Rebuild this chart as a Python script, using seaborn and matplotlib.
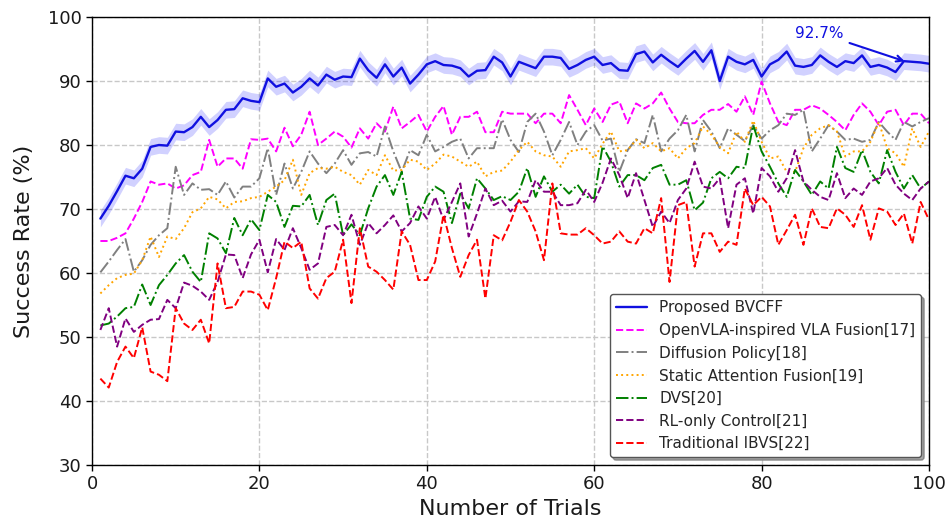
import numpy as np
import pandas as pd
import matplotlib
matplotlib.use("Agg")
import matplotlib.pyplot as plt
import seaborn as sns

trials = list(range(1, 101))

proposed_bvcff = [68.5, 70.5, 72.8, 75.2, 74.8, 76.3, 79.7, 80.0, 79.9, 82.1,
                  82.0, 82.8, 84.4, 82.8, 83.9, 85.5, 85.6, 87.3, 86.9, 86.7,
                  90.4, 89.1, 89.6, 88.2, 89.1, 90.4, 89.3, 91.0, 90.2, 90.7,
                  90.6, 93.5, 91.7, 90.5, 92.6, 90.7, 92.1, 89.6, 91.0, 92.6,
                  93.1, 92.5, 92.4, 92.0, 90.7, 91.6, 91.7, 93.8, 92.9, 90.7,
                  93.0, 92.5, 92.0, 93.8, 93.8, 93.6, 91.9, 92.5, 93.3, 93.8,
                  92.5, 92.8, 91.7, 91.6, 94.2, 94.6, 92.9, 94.1, 93.1, 92.2,
                  93.5, 94.7, 93.0, 94.8, 90.0, 93.8, 93.0, 92.6, 93.3, 90.7,
                  92.6, 93.3, 94.6, 92.4, 92.2, 92.5, 94.0, 93.0, 92.2, 93.1,
                  92.8, 94.0, 92.2, 92.5, 92.1, 91.4, 93.1, 93.0, 92.9, 92.7]
proposed_band = 1.3

openvla_fusion = [65.0, 65.0, 65.5, 66.2, 68.5, 71.1, 74.3, 73.8, 74.0, 73.2,
                  73.7, 75.3, 75.8, 80.8, 76.6, 77.9, 77.9, 76.3, 80.9, 80.8,
                  81.0, 79.0, 82.7, 79.8, 81.6, 85.2, 80.0, 81.0, 82.1, 81.3,
                  79.6, 82.6, 81.0, 83.4, 82.1, 86.0, 82.6, 83.6, 84.7, 82.1,
                  84.4, 86.1, 81.6, 84.4, 84.4, 85.2, 82.0, 82.0, 85.2, 84.9,
                  84.9, 84.9, 83.4, 84.9, 84.9, 83.4, 87.8, 85.5, 83.1, 85.7,
                  83.6, 86.3, 86.8, 83.4, 86.5, 85.7, 86.5, 88.2, 85.7, 83.6,
                  83.4, 83.4, 84.7, 85.5, 85.5, 86.4, 85.2, 87.6, 84.7, 89.9,
                  86.5, 83.6, 83.1, 85.5, 85.5, 86.2, 85.7, 84.7, 83.6, 82.3,
                  84.7, 86.5, 85.2, 83.1, 85.2, 85.5, 83.1, 84.9, 84.9, 83.4]

diffusion_policy = [60.1, 61.8, 63.6, 65.3, 60.2, 62.0, 64.4, 65.9, 67.0, 76.6,
                    72.2, 74.0, 73.0, 73.1, 72.2, 74.3, 71.8, 73.5, 73.5, 74.8,
                    79.5, 72.2, 77.1, 73.2, 75.8, 79.0, 77.1, 75.6, 77.1, 79.2,
                    76.9, 78.7, 78.9, 78.2, 82.9, 79.0, 75.8, 79.2, 78.4, 81.6,
                    79.0, 79.7, 80.5, 81.0, 77.9, 79.5, 79.5, 79.5, 84.0, 80.8,
                    78.9, 83.6, 84.9, 82.1, 78.4, 80.8, 83.6, 80.0, 82.1, 83.1,
                    80.7, 81.0, 75.8, 79.2, 80.9, 80.3, 84.7, 79.0, 81.0, 82.3,
                    84.7, 79.0, 83.9, 82.1, 79.5, 82.6, 81.6, 80.6, 83.1, 81.0,
                    82.3, 83.1, 84.9, 84.7, 85.5, 79.0, 81.0, 83.1, 82.1, 80.8,
                    81.0, 80.5, 80.8, 83.6, 82.1, 80.8, 83.6, 82.9, 83.6, 84.2]

static_attention = [56.8, 58.1, 59.2, 59.7, 59.9, 62.0, 65.7, 62.5, 65.7, 65.3,
                    67.0, 69.5, 70.1, 71.9, 71.5, 70.1, 71.1, 71.2, 71.7, 71.9,
                    72.7, 73.5, 74.5, 77.7, 72.2, 75.6, 76.4, 76.3, 76.6, 75.8,
                    75.3, 73.8, 76.1, 75.3, 78.4, 76.0, 76.1, 77.7, 77.4, 76.1,
                    77.1, 78.5, 78.2, 77.4, 76.6, 77.4, 75.1, 75.8, 76.0, 77.4,
                    79.2, 80.5, 79.0, 78.4, 78.2, 76.6, 79.0, 79.2, 79.5, 77.9,
                    80.2, 82.1, 79.0, 79.2, 80.8, 79.5, 80.3, 79.0, 79.5, 77.9,
                    79.5, 80.3, 82.9, 81.6, 79.7, 78.7, 82.1, 80.5, 83.8, 80.5,
                    77.9, 78.2, 75.8, 75.8, 79.5, 81.6, 82.6, 83.1, 82.1, 78.2,
                    79.0, 79.0, 80.5, 83.6, 79.5, 78.7, 76.6, 82.6, 79.7, 82.1]

dvs = [51.8, 52.1, 53.2, 54.5, 54.7, 58.2, 55.0, 58.1, 59.7, 61.5,
       62.8, 60.2, 58.6, 66.2, 65.4, 63.1, 68.6, 65.9, 68.4, 66.7,
       72.2, 71.1, 67.2, 70.5, 70.4, 72.2, 67.5, 71.4, 72.4, 65.9,
       67.6, 65.9, 70.1, 73.5, 75.3, 72.2, 75.8, 68.5, 68.3, 71.9,
       73.5, 72.7, 67.8, 72.4, 70.1, 74.8, 73.2, 71.4, 72.0, 71.4,
       72.7, 76.4, 71.9, 75.1, 72.7, 73.8, 72.4, 73.8, 71.9, 71.7,
       79.8, 77.4, 73.5, 75.3, 75.3, 74.5, 76.4, 76.9, 73.8, 73.8,
       74.5, 69.8, 71.0, 74.8, 75.8, 74.8, 76.6, 76.4, 83.1, 79.0,
       76.6, 74.0, 71.9, 76.1, 74.3, 72.2, 74.3, 73.2, 79.7, 76.4,
       75.8, 79.2, 75.8, 74.0, 79.2, 75.8, 73.2, 75.3, 73.2, 74.3]

rl_only = [51.1, 54.5, 48.5, 52.9, 50.8, 51.9, 52.7, 52.8, 55.8, 54.5,
           58.5, 58.0, 57.1, 55.8, 58.6, 62.9, 62.8, 59.2, 62.9, 65.2,
           60.1, 65.3, 63.6, 67.0, 63.9, 60.5, 61.5, 67.2, 67.5, 65.9,
           69.1, 64.4, 67.8, 66.2, 67.5, 69.0, 66.5, 67.8, 70.4, 68.5,
           71.9, 68.3, 71.1, 74.0, 65.7, 69.3, 73.2, 70.6, 71.3, 69.6,
           71.2, 71.1, 74.5, 72.7, 72.7, 70.6, 70.6, 70.9, 73.0, 71.1,
           74.1, 77.9, 75.3, 71.7, 75.6, 71.4, 67.2, 69.6, 67.8, 71.4,
           73.2, 77.4, 73.5, 73.2, 74.8, 67.0, 73.8, 74.8, 69.3, 76.4,
           75.1, 72.7, 74.8, 79.2, 74.3, 73.0, 71.9, 71.4, 75.6, 71.7,
           73.2, 72.2, 74.3, 74.8, 76.4, 73.8, 72.4, 71.4, 73.2, 74.3]

traditional_ibvs = [43.5, 42.1, 46.1, 48.5, 46.7, 51.5, 44.6, 44.1, 43.1, 54.5,
                    52.1, 51.1, 52.7, 49.0, 61.5, 54.5, 54.7, 57.1, 57.1, 56.6,
                    54.2, 59.2, 64.9, 63.9, 64.9, 57.6, 56.0, 59.2, 60.2, 65.2,
                    55.3, 67.0, 61.0, 60.2, 58.9, 57.4, 66.5, 64.4, 58.9, 58.9,
                    61.8, 69.1, 63.9, 59.4, 62.8, 65.2, 56.0, 65.9, 65.1, 68.0,
                    71.4, 69.6, 66.5, 62.0, 74.0, 66.2, 66.0, 66.0, 67.0, 65.9,
                    64.6, 64.9, 66.5, 64.9, 64.6, 67.0, 66.2, 71.7, 58.6, 70.6,
                    71.1, 61.0, 66.2, 66.2, 63.3, 64.9, 64.4, 73.2, 70.6, 71.9,
                    70.4, 64.4, 66.7, 69.1, 64.4, 70.1, 67.2, 67.0, 70.1, 69.1,
                    67.2, 70.6, 65.2, 70.1, 69.6, 67.5, 69.3, 64.6, 71.1, 68.3]

series_labels = ["Proposed BVCFF", "OpenVLA-inspired VLA Fusion[17]", "Diffusion Policy[18]",
                 "Static Attention Fusion[19]", "DVS[20]", "RL-only Control[21]", "Traditional IBVS[22]"]
x_ticks = [0, 20, 40, 60, 80, 100]
y_ticks = [30, 40, 50, 60, 70, 80, 90, 100]
final_label = "92.7%"

sns.set_style("whitegrid")
plt.rcParams['font.family'] = ['DejaVu Sans']

fig = plt.figure(figsize=(9.49, 5.27), dpi=100)
ax = fig.add_axes([92/949, 1-465/527, (929-92)/949, (465-17)/527])

all_series = [proposed_bvcff, openvla_fusion, diffusion_policy, static_attention,
              dvs, rl_only, traditional_ibvs]
colors = ["#1010e0", "magenta", "gray", "orange", "green", "purple", "red"]
styles = ["-", "--", "-.", ":", "-.", "--", "--"]
widths = [1.7, 1.4, 1.4, 1.4, 1.4, 1.4, 1.4]

t = np.array(trials)
pb = np.array(proposed_bvcff)
ax.fill_between(t, pb - proposed_band, pb + proposed_band, color="blue", alpha=0.18, lw=0)

for vals, lab, c, ls, lw in zip(all_series, series_labels, colors, styles, widths):
    df = pd.DataFrame({"Trial": trials, "Rate": vals})
    sns.lineplot(data=df, x="Trial", y="Rate", ax=ax, color=c, linestyle=ls,
                 linewidth=lw, label=lab)

ax.annotate(final_label, xy=(97.4, 92.95), xytext=(86.9, 97.5),
            ha="center", va="center", fontsize=11, color="#1010e0",
            arrowprops=dict(arrowstyle="->", color="#1010e0", lw=1.5))

ax.set_xlim(0, 100)
ax.set_ylim(30, 100)
ax.set_xticks(x_ticks)
ax.set_yticks(y_ticks)
ax.tick_params(axis="both", labelsize=13, direction="out", length=4, width=1,
               bottom=True, left=True, color="black", labelcolor="#1a1a1a")
ax.set_xlabel("Number of Trials", fontsize=16, color="#1a1a1a", labelpad=4)
ax.set_ylabel("Success Rate (%)", fontsize=16, color="#1a1a1a", labelpad=10)
ax.grid(True, linestyle="--", color="#c8c8c8", linewidth=1.0)
for sp in ax.spines.values():
    sp.set_color("black")
    sp.set_linewidth(1.0)

leg = ax.legend(loc="lower right", fontsize=11, frameon=True, shadow=True,
                fancybox=True, framealpha=1.0, edgecolor="#555555")

fig.savefig("out.png", dpi=100)
